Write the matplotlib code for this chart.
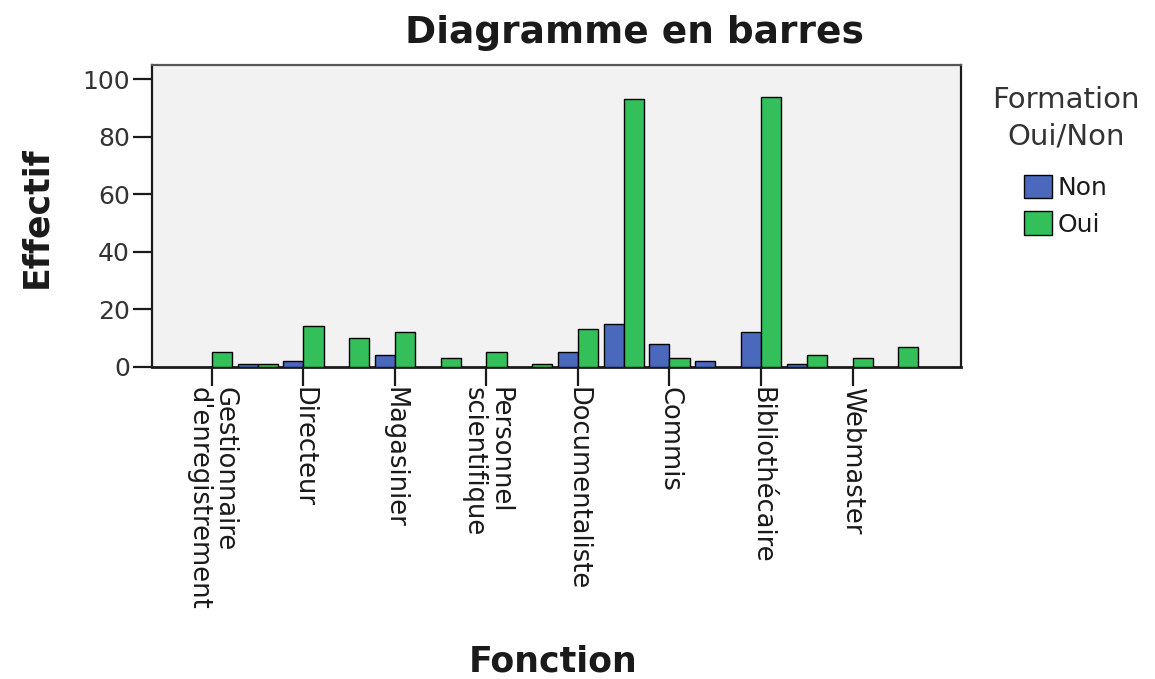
import numpy as np
import matplotlib
matplotlib.use("Agg")
import matplotlib.pyplot as plt

# SPSS-style grouped bar chart: Fonction x Formation Oui/Non
# 16 categories, only every other one carries a label on the axis
tick_labels = [
    "Gestionnaire\nd'enregistrement", "Directeur", "Magasinier",
    "Personnel\nscientifique", "Documentaliste", "Commis",
    "Bibliothécaire", "Webmaster",
]
non = [0, 1, 2, 0, 4, 0, 0, 0, 5, 15, 8, 2, 12, 1, 0, 0]
oui = [5, 1, 14, 10, 12, 3, 5, 1, 13, 93, 3, 0, 94, 4, 3, 7]
series_names = ["Non", "Oui"]

BLUE = "#4A69BD"
GREEN = "#33C05A"
BG = "#F2F2F2"
INK = "#1a1a1a"

fig = plt.figure(figsize=(11.55, 6.79), dpi=100)
ax = fig.add_axes([0.1316, 0.4600, 0.7004, 0.4443])
ax.set_facecolor(BG)

x = np.arange(len(non))
w = 0.44
non_arr = np.array(non)
oui_arr = np.array(oui)
# zero counts are not drawn (SPSS leaves the slot empty)
m_non = non_arr > 0
m_oui = oui_arr > 0
ax.bar(x[m_non] - w / 2, non_arr[m_non], w, color=BLUE, edgecolor="black",
       linewidth=1.0, label=series_names[0], zorder=3)
ax.bar(x[m_oui] + w / 2, oui_arr[m_oui], w, color=GREEN, edgecolor="black",
       linewidth=1.0, label=series_names[1], zorder=3)

ax.set_xlim(-1.31, 16.37)
ax.set_ylim(0, 105)
ax.set_yticks(range(0, 101, 20))
ax.set_xticks(x[::2])
ax.set_xticklabels(tick_labels, rotation=-90, ha="center", va="top",
                   multialignment="left", linespacing=1.0)

ax.tick_params(axis="y", length=14, width=1.6, pad=2, labelsize=18,
               colors=INK, labelcolor="#333333", direction="out")
ax.tick_params(axis="x", length=14, width=1.6, pad=1, labelsize=18.5,
               colors=INK, direction="out")

for side in ["left", "bottom", "right"]:
    ax.spines[side].set_color(INK)
    ax.spines[side].set_linewidth(1.6)
ax.spines["top"].set_color("#555555")
ax.spines["top"].set_linewidth(1.6)
ax.spines["bottom"].set_linewidth(2.0)

# ─── Titles ─────────────────────────────────────────────────────────────
fig.text(634 / 1155, 1 - 43 / 679, "Diagramme en barres", ha="center",
         va="baseline", fontsize=27, fontweight="bold", color=INK)
fig.text(553 / 1155, 1 - 672 / 679, "Fonction", ha="center", va="baseline",
         fontsize=25, fontweight="bold", color=INK)
fig.text(36 / 1155, 1 - 217 / 679, "Effectif", ha="center", va="center",
         rotation=90, fontsize=25, fontweight="bold", color=INK)

# ─── Legend ─────────────────────────────────────────────────────────────
leg = fig.legend(
    title="Formation\nOui/Non", loc="upper center",
    bbox_to_anchor=(1066 / 1155, 1 - 76 / 679), frameon=False,
    fontsize=18, title_fontproperties={"size": 21},
    handlelength=1.1, handleheight=1.05, handletextpad=0.25,
    labelspacing=0.45, borderaxespad=0,
)
leg.get_title().set_multialignment("center")
leg.get_title().set_linespacing(1.4)
leg.get_title().set_color("#333333")
for t in leg.get_texts():
    t.set_color(INK)
# wider gap between the title and the entries, as in the SPSS output
leg._legend_box.sep = 17.5

fig.savefig("out.png", dpi=100)
